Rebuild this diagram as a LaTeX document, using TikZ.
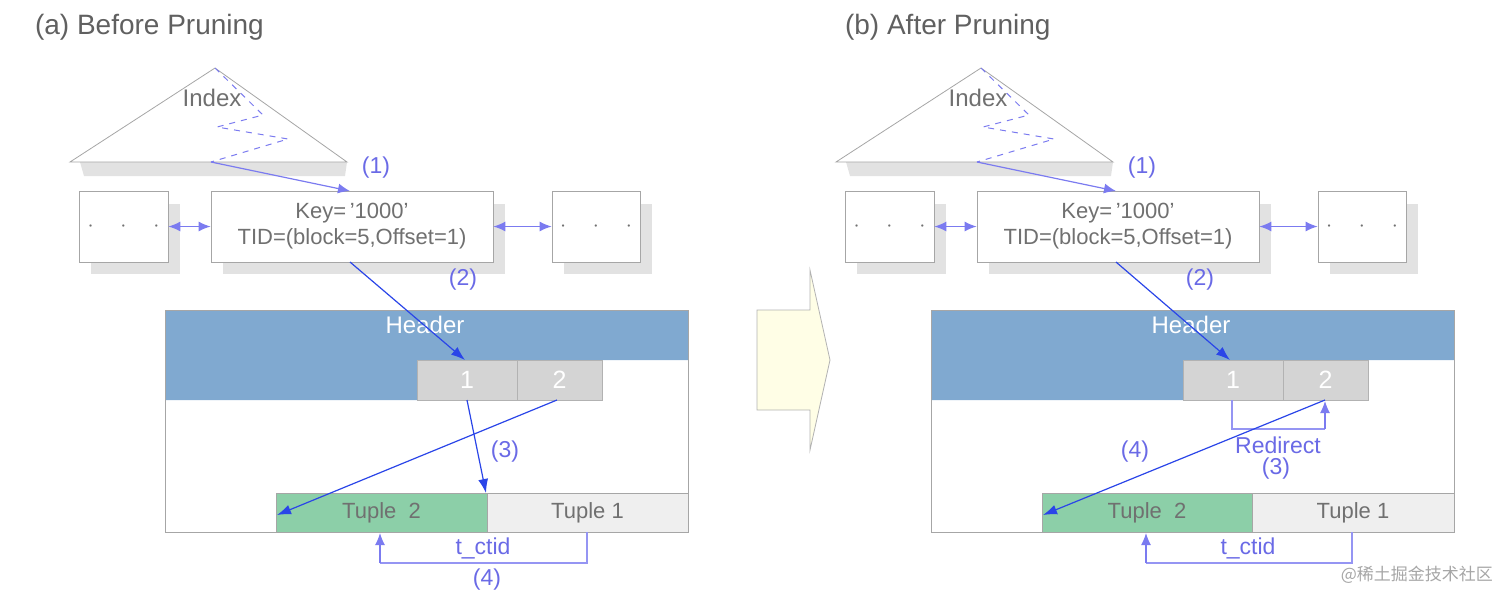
\documentclass[tikz,border=0pt]{standalone}
\usepackage{fontspec}
\setmainfont{Liberation Sans}
\newfontfamily\cjkf{Noto Sans CJK SC}
\usetikzlibrary{arrows.meta}
\definecolor{txtg}{HTML}{707070}
\definecolor{lb}{HTML}{7B7BF0}
\definecolor{sb}{HTML}{2A45E8}
\definecolor{lab}{HTML}{6A6AE6}
\definecolor{hdr}{HTML}{80A9D0}
\definecolor{itm}{HTML}{D4D4D4}
\definecolor{tg}{HTML}{8CCFA8}
\definecolor{tw}{HTML}{EFEFEF}
\definecolor{shd}{HTML}{E2E2E2}
\tikzset{
 box/.style={draw=gray!70, fill=white, inner sep=0, text=txtg, font=\fontsize{11}{13}\selectfont, align=center},
 shadow/.style={fill=shd, draw=none},
 lbl/.style={text=lab, font=\fontsize{11.5}{13}\selectfont, inner sep=1pt},
 light/.style={draw=lb, line width=0.6pt, -{Latex[length=6pt,width=5pt]}},
 dbl/.style={draw=lb, line width=0.6pt, {Latex[length=6pt,width=5pt]}-{Latex[length=6pt,width=5pt]}},
 strong/.style={draw=sb, line width=0.6pt, -{Latex[length=7pt,width=5pt]}},
 brk/.style={draw=lb!80, line width=0.6pt},
 itemb/.style={fill=itm, draw=gray!60, inner sep=0, text=white, font=\fontsize{12.5}{14}\selectfont},
 title/.style={text=gray!75!black, font=\fontsize{14}{16}\selectfont, anchor=west}
}
\begin{document}
\begin{tikzpicture}[x=0.5pt,y=-0.5pt]
\useasboundingbox (0,0) rectangle (1512,601);
% ===== left panel =====
\node[title] (ta) at (28,27) {(a) Before Pruning};
\fill[shd] (80,162) -- (347,162) -- (345,176) -- (84,176) -- cycle;
\draw[gray!70, fill=white] (70,162) -- (215,68) -- (347,162) -- cycle;
\draw[lb, dashed, line width=0.5pt] (215,68) -- (263,115) -- (217,127) -- (288,139) -- (211,162);
\node[text=txtg, font=\fontsize{12}{14}\selectfont] (ia) at (212,98) {Index};
\coordinate (ta1) at (211,162);
\fill[shd] (91,204) rectangle (180,274);
\fill[shd] (223,204) rectangle (505,274);
\fill[shd] (564,204) rectangle (652,274);
\node[box, minimum width=44.5pt, minimum height=35.5pt] (la) at (123.5,226.5) {$\cdot\quad\cdot\quad\cdot$};
\node[box, minimum width=141pt, minimum height=35.5pt] (ka) at (352,226.5) {Key=\,'1000'\\TID=(block=5,Offset=1)};
\node[box, minimum width=44pt, minimum height=35.5pt] (ra) at (596,226.5) {$\cdot\quad\cdot\quad\cdot$};
\draw[light] (ta1) -- (350,191);
\node[lbl] (l1a) at (376,168) {(1)};
\draw[dbl] (la) -- (ka);
\draw[dbl] (ka) -- (ra);
% page
\draw[gray!70, fill=white] (165,310) rectangle (688,532);
\fill[hdr] (165,310) -- (688,310) -- (688,360) -- (417,360) -- (417,400) -- (165,400) -- cycle;
\draw[gray!70] (165,310) rectangle (688,532);
\node[text=white, font=\fontsize{12}{14}\selectfont] (ha) at (425,325) {Header};
\node[itemb, minimum width=50pt, minimum height=20pt] (i1a) at (467,380) {1};
\node[itemb, minimum width=42.5pt, minimum height=20pt] (i2a) at (559.5,380) {2};
\node[box, fill=tg, minimum width=105.5pt, minimum height=19.5pt] (t2a) at (381.5,512.5) {Tuple\ \ 2};
\node[box, fill=tw, minimum width=100.5pt, minimum height=19.5pt] (t1a) at (587.5,512.5) {Tuple 1};
\draw[strong] (350,262) -- (465,360);
\node[lbl] (l2a) at (463,280) {(2)};
\draw[strong] (467,400) -- (486,493);
\node[lbl] (l3a) at (505,452) {(3)};
\draw[strong] (557,400) -- (277,515);
\draw[brk] (587,532) -- (587,563) -- (380,563);
\draw[light] (380,563) -- (380,533);
\node[lbl] (tca) at (483,548) {t\_ctid};
\node[lbl] (l4a) at (487,580) {(4)};
% ===== middle arrow =====
\draw[gray!60, fill=yellow!10] (757,310) -- (810,310) -- (810,270) -- (830,360) -- (810,450) -- (810,410) -- (757,410) -- cycle;
% ===== right panel =====
\node[title] (tb) at (838,27) {(b) After Pruning};
\fill[shd] (846,162) -- (1113,162) -- (1111,176) -- (850,176) -- cycle;
\draw[gray!70, fill=white] (836,162) -- (981,68) -- (1113,162) -- cycle;
\draw[lb, dashed, line width=0.5pt] (981,68) -- (1029,115) -- (983,127) -- (1054,139) -- (977,162);
\node[text=txtg, font=\fontsize{12}{14}\selectfont] (ib) at (978,98) {Index};
\coordinate (tb1) at (977,162);
\fill[shd] (857,204) rectangle (946,274);
\fill[shd] (989,204) rectangle (1271,274);
\fill[shd] (1330,204) rectangle (1418,274);
\node[box, minimum width=44.5pt, minimum height=35.5pt] (lb) at (889.5,226.5) {$\cdot\quad\cdot\quad\cdot$};
\node[box, minimum width=141pt, minimum height=35.5pt] (kb) at (1118,226.5) {Key=\,'1000'\\TID=(block=5,Offset=1)};
\node[box, minimum width=44pt, minimum height=35.5pt] (rb) at (1362,226.5) {$\cdot\quad\cdot\quad\cdot$};
\draw[light] (tb1) -- (1116,191);
\node[lbl] (l1b) at (1142,168) {(1)};
\draw[dbl] (lb) -- (kb);
\draw[dbl] (kb) -- (rb);
\draw[gray!70, fill=white] (931,310) rectangle (1454,532);
\fill[hdr] (931,310) -- (1454,310) -- (1454,360) -- (1183,360) -- (1183,400) -- (931,400) -- cycle;
\draw[gray!70] (931,310) rectangle (1454,532);
\node[text=white, font=\fontsize{12}{14}\selectfont] (hb) at (1191,325) {Header};
\node[itemb, minimum width=50pt, minimum height=20pt] (i1b) at (1233,380) {1};
\node[itemb, minimum width=42.5pt, minimum height=20pt] (i2b) at (1325.5,380) {2};
\node[box, fill=tg, minimum width=105pt, minimum height=19.5pt] (t2b) at (1147,512.5) {Tuple\ \ 2};
\node[box, fill=tw, minimum width=101pt, minimum height=19.5pt] (t1b) at (1353,512.5) {Tuple 1};
\draw[strong] (1116,262) -- (1230,360);
\node[lbl] (l2b) at (1200,280) {(2)};
\draw[brk] (1232,400) -- (1232,429) -- (1325,429);
\draw[light] (1325,429) -- (1325,401);
\node[lbl] (rdb) at (1278,445) {Redirect};
\node[lbl] (l3b) at (1276,469) {(3)};
\draw[strong] (1325,400) -- (1043,515);
\node[lbl] (l4b) at (1135,452) {(4)};
\draw[brk] (1352,532) -- (1352,563) -- (1146,563);
\draw[light] (1146,563) -- (1146,533);
\node[lbl] (tcb) at (1248,548) {t\_ctid};
\node[text=gray!70, font=\cjkf\fontsize{8.5}{10}\selectfont, anchor=east] (wm) at (1500,575) {@稀土掘金技术社区};
\end{tikzpicture}
\end{document}
